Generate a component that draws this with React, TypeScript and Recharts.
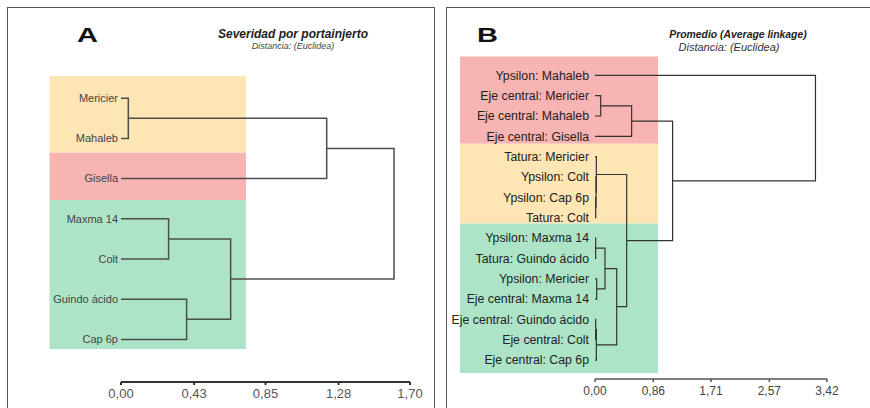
import { ComposedChart, Line, ReferenceArea, XAxis, YAxis } from 'recharts';

// Panel A: severidad por portainjerto
const LEAVES_A = ['Mericier', 'Mahaleb', 'Gisella', 'Maxma 14', 'Colt', 'Guindo ácido', 'Cap 6p'];
// [left node, right node, height]; nodes >= leaves.length are earlier merges
const MERGES_A: Array<[number, number, number]> = [
  [0, 1, 0.043],
  [7, 2, 1.21],
  [3, 4, 0.28],
  [5, 6, 0.386],
  [9, 10, 0.645],
  [8, 11, 1.606],
];
const TICKS_A = [0, 0.43, 0.85, 1.28, 1.7];
const GROUPS_A = [
  { y1: 0.45, y2: 2.36, color: '#fde5b4' },
  { y1: 2.36, y2: 3.53, color: '#f8b3b3' },
  { y1: 3.53, y2: 7.24, color: '#ade4c8' },
];

// Panel B: promedio (average linkage)
const LEAVES_B = [
  'Ypsilon: Mahaleb',
  'Eje central: Mericier',
  'Eje central: Mahaleb',
  'Eje central: Gisella',
  'Tatura: Mericier',
  'Ypsilon: Colt',
  'Ypsilon: Cap 6p',
  'Tatura: Colt',
  'Ypsilon: Maxma 14',
  'Tatura: Guindo ácido',
  'Ypsilon: Mericier',
  'Eje central: Maxma 14',
  'Eje central: Guindo ácido',
  'Eje central: Colt',
  'Eje central: Cap 6p',
];
const MERGES_B: Array<[number, number, number]> = [
  [1, 2, 0.084],
  [15, 3, 0.54],
  [6, 7, 0.01],
  [5, 17, 0.015],
  [4, 18, 0.02],
  [8, 9, 0.01],
  [10, 11, 0.025],
  [20, 21, 0.147],
  [12, 13, 0.01],
  [23, 14, 0.02],
  [22, 24, 0.32],
  [19, 25, 0.467],
  [16, 26, 1.144],
  [0, 27, 3.25],
];
const TICKS_B = [0, 0.86, 1.71, 2.57, 3.42];
const GROUPS_B = [
  { y1: 0.07, y2: 4.36, color: '#f8b3b3' },
  { y1: 4.36, y2: 8.29, color: '#fde5b4' },
  { y1: 8.29, y2: 15.64, color: '#ade4c8' },
];

type Pt = { x: number; y: number };

function buildLinks(nLeaves: number, merges: Array<[number, number, number]>) {
  const nodes: Pt[] = [];
  for (let i = 0; i < nLeaves; i++) nodes.push({ x: 0, y: i + 1 });
  const links: Pt[][] = [];
  merges.forEach(([a, b, h]) => {
    const pa = nodes[a];
    const pb = nodes[b];
    links.push([
      { x: pa.x, y: pa.y },
      { x: h, y: pa.y },
      { x: h, y: pb.y },
      { x: pb.x, y: pb.y },
    ]);
    nodes.push({ x: h, y: (pa.y + pb.y) / 2 });
  });
  return links;
}

const comma = (v: number) => v.toFixed(2).replace('.', ',');
const font = 'Liberation Sans, Arial, sans-serif';

type DendroProps = {
  width: number;
  height: number;
  leaves: string[];
  merges: Array<[number, number, number]>;
  ticks: number[];
  groups: Array<{ y1: number; y2: number; color: string }>;
  bandX: [number, number];
  yMax: number;
  margin: { top: number; right: number; bottom: number; left: number };
  yAxisWidth: number;
  labelSize: number;
  labelColor: string;
  labelGap: number;
  lineColor: string;
  lineWidth: number;
  axisColor: string;
  axisWidth: number;
  tickSize: number;
  tickColor: string;
};

function Dendrogram(p: DendroProps) {
  const links = buildLinks(p.leaves.length, p.merges);
  const leafTicks = p.leaves.map((_, i) => i + 1);
  const leafTick = (t: any) => (
    <text
      x={t.x + 3 - p.labelGap}
      y={t.y}
      dy="0.35em"
      textAnchor="end"
      fontSize={p.labelSize}
      fill={p.labelColor}
      fontFamily={font}
    >
      {p.leaves[t.payload.value - 1]}
    </text>
  );
  return (
    <ComposedChart width={p.width} height={p.height} margin={p.margin}>
      {p.groups.map((g, i) => (
        <ReferenceArea
          key={'g' + i}
          x1={p.bandX[0]}
          x2={p.bandX[1]}
          y1={g.y1}
          y2={g.y2}
          fill={g.color}
          fillOpacity={1}
          stroke="none"
          ifOverflow="visible"
        />
      ))}
      <XAxis
        type="number"
        dataKey="x"
        domain={[0, p.ticks[p.ticks.length - 1]]}
        ticks={p.ticks}
        interval={0}
        tickFormatter={comma}
        height={20}
        stroke={p.axisColor}
        strokeWidth={p.axisWidth}
        tickSize={3}
        tickMargin={4}
        tick={{ fontSize: p.tickSize, fill: p.tickColor, fontFamily: font }}
      />
      <YAxis
        type="number"
        dataKey="y"
        reversed
        domain={[0, p.yMax]}
        ticks={leafTicks}
        interval={0}
        width={p.yAxisWidth}
        axisLine={false}
        tickLine={false}
        tickSize={0}
        tickMargin={3}
        tick={leafTick}
      />
      {links.map((d, i) => (
        <Line
          key={'l' + i}
          data={d}
          dataKey="y"
          type="linear"
          stroke={p.lineColor}
          strokeWidth={p.lineWidth}
          dot={false}
          activeDot={false}
          isAnimationActive={false}
        />
      ))}
    </ComposedChart>
  );
}

const bigLetter = {
  position: 'absolute' as const,
  top: 25,
  fontSize: 20,
  lineHeight: 1,
  fontWeight: 900,
  color: '#111',
  transform: 'scaleX(1.45)',
  transformOrigin: 'left top',
};

export default function App() {
  return (
    <div style={{ position: 'relative', width: 870, height: 408, overflow: 'hidden', background: '#fff', fontFamily: font }}>
      <style>{'body{margin:0}'}</style>
      <div style={{ position: 'absolute', left: 7, top: 7, width: 426, height: 420, border: '1px solid #555' }} />
      <div style={{ position: 'absolute', left: 446, top: 7, width: 440, height: 420, border: '1px solid #555' }} />

      <div style={{ position: 'absolute', left: 0, top: 0 }}>
        <Dendrogram
          width={434}
          height={408}
          leaves={LEAVES_A}
          merges={MERGES_A}
          ticks={TICKS_A}
          groups={GROUPS_A}
          bandX={[-0.42, 0.735]}
          yMax={8.06}
          margin={{ top: 58, right: 24, bottom: 6, left: 21 }}
          yAxisWidth={100}
          labelSize={11}
          labelColor="#444"
          labelGap={3}
          lineColor="#4d4d4d"
          lineWidth={1.5}
          axisColor="#333"
          axisWidth={2}
          tickSize={13}
          tickColor="#555"
        />
      </div>
      <div style={{ position: 'absolute', left: 447, top: 0 }}>
        <Dendrogram
          width={423}
          height={408}
          leaves={LEAVES_B}
          merges={MERGES_B}
          ticks={TICKS_B}
          groups={GROUPS_B}
          bandX={[-1.99, 0.93]}
          yMax={15.93}
          margin={{ top: 55, right: 43, bottom: 9, left: 8 }}
          yAxisWidth={140}
          labelSize={12.3}
          labelColor="#222"
          labelGap={6}
          lineColor="#333"
          lineWidth={1.2}
          axisColor="#555"
          axisWidth={1.5}
          tickSize={12}
          tickColor="#444"
        />
      </div>

      <div style={{ ...bigLetter, left: 77 }}>A</div>
      <div style={{ position: 'absolute', left: 212, top: 28, width: 162, textAlign: 'center', lineHeight: 1 }}>
        <div style={{ fontSize: 12, fontWeight: 'bold', fontStyle: 'italic', color: '#222' }}>Severidad por portainjerto</div>
        <div style={{ fontSize: 9, fontStyle: 'italic', color: '#444', marginTop: 2 }}>Distancia: (Euclidea)</div>
      </div>

      <div style={{ ...bigLetter, left: 477 }}>B</div>
      <div style={{ position: 'absolute', left: 662, top: 30, width: 152, textAlign: 'center', lineHeight: 1 }}>
        <div style={{ fontSize: 10.4, fontWeight: 'bold', fontStyle: 'italic', color: '#222' }}>Promedio (Average linkage)</div>
        <div style={{ fontSize: 11, fontStyle: 'italic', color: '#333', marginTop: 2, paddingRight: 18 }}>Distancia: (Euclidea)</div>
      </div>
    </div>
  );
}
